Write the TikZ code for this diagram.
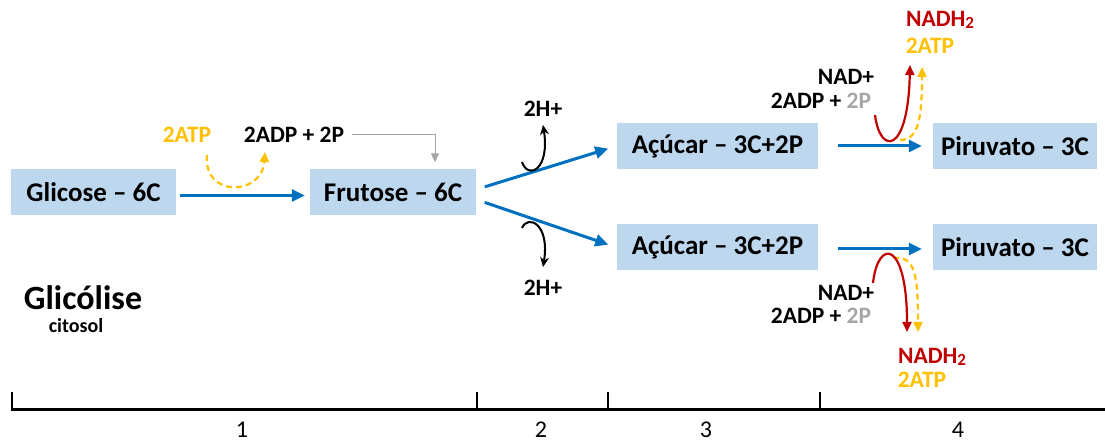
\documentclass[tikz,border=0pt]{standalone}
\usepackage{fontspec}
\setmainfont{Carlito}
\usetikzlibrary{arrows.meta}
\definecolor{boxblue}{HTML}{BDD7EE}
\definecolor{flowblue}{HTML}{0070C0}
\definecolor{atpyellow}{HTML}{FFC000}
\definecolor{nadred}{HTML}{C00000}
\definecolor{pgray}{HTML}{A6A6A6}
\newcommand{\subtwo}{\raisebox{-1.5pt}{\fontsize{17}{17}\selectfont 2}}
\tikzstyle{molbox}=[fill=boxblue,inner sep=0pt,minimum height=46pt,
                    font=\fontsize{27}{32}\selectfont\bfseries]
\tikzstyle{lbl}=[inner sep=0pt,font=\fontsize{23.5}{28}\selectfont\bfseries]
\tikzstyle{stage}=[inner sep=0pt,font=\fontsize{24}{26}\selectfont]
\tikzstyle{flow}=[flowblue,line width=3pt,
                  -{Triangle[length=13pt,width=12pt]}]
\tikzstyle{atpflow}=[atpyellow,line width=2.2pt,dash pattern=on 6pt off 4pt,
                     -{Triangle[length=10pt,width=9pt]}]
\tikzstyle{nadflow}=[nadred,line width=2.2pt,
                     -{Triangle[length=10pt,width=9pt]}]
\tikzstyle{hflow}=[black,line width=2pt,
                   -{Stealth[length=10pt,width=9pt]}]

\begin{document}
\begin{tikzpicture}[x=1pt,y=-1pt]
    \useasboundingbox (0,0) rectangle (1105,443);
    % molecules
    \node (glic) at (93.5,192.5) [molbox,minimum width=165pt]{Glicose -- 6C};
    \node (frut) at (393,192.5) [molbox,minimum width=166pt]{Frutose -- 6C};
    \node (acA) at (717.5,146) [molbox,minimum width=201pt]{Açúcar -- 3C+2P};
    \node (acB) at (717.5,247.5) [molbox,minimum width=201pt]{Açúcar -- 3C+2P};
    \node (pirA) at (1015,146) [molbox,minimum width=164pt]{Piruvato -- 3C};
    \node (pirB) at (1015,247.5) [molbox,minimum width=164pt]{Piruvato -- 3C};
    \draw[flow,shorten <=4pt,shorten >=5pt]
        ([yshift=-3pt]glic.east) -- ([yshift=-3pt]frut.west);
    \draw[flow,shorten <=9pt,shorten >=9pt] ([yshift=3pt]frut.east) -- (acA.west);
    \draw[flow,shorten <=9pt,shorten >=9pt] ([yshift=-7pt]frut.east) -- (acB.west);
    \draw[flow,shorten <=20pt,shorten >=11pt] (acA) -- (pirA);
    \draw[flow,shorten <=20pt,shorten >=11pt]
        ([yshift=-1.5pt]acB.east) -- ([yshift=-1.5pt]pirB.west);
    % step 1
    \node (atp1) at (187,135) [lbl,atpyellow]{2ATP};
    \node (adp1) at (294,135) [lbl]{2ADP + 2P};
    \coordinate (atp1in) at (207,155);
    \coordinate (atp1out) at (265,152);
    \draw[atpflow] (atp1in) .. controls (203,198) and (262,196) .. (atp1out);
    \draw[pgray,line width=1pt,-{Triangle[length=9pt,width=8pt]}]
        ([xshift=8pt]adp1.east) -| ([xshift=42pt,yshift=7pt]frut.north);
    % step 2
    \node (hA) at (543,109) [lbl]{2H+};
    \node (hB) at (543,288) [lbl]{2H+};
    \coordinate (hAin) at (522,162);
    \coordinate (hBin) at (522,228);
    \draw[hflow] (hAin) .. controls (528,180) and (550,170) .. ([yshift=-8pt]hA.south);
    \draw[hflow] (hBin) .. controls (528,214) and (550,224) .. ([yshift=13pt]hB.north);
    % step 3, upper branch
    \node (nadA) at (846,77) [lbl]{NAD+};
    \node (adpA) at (821,101) [lbl]{2ADP + \textcolor{pgray}{2P}};
    \node (nadhA) at (940,20) [lbl,nadred]{NADH\subtwo};
    \node (atpA) at (930,46) [lbl,atpyellow]{2ATP};
    \coordinate (redAin) at (875,115);
    \coordinate (redAout) at (910,65);
    \coordinate (ylwAin) at (900,140);
    \coordinate (ylwAout) at (922,67);
    \draw[atpflow] (ylwAin) .. controls (918,140) and (922,120) .. (ylwAout);
    \draw[nadflow] (redAin) .. controls (880,155) and (908,155) .. (redAout);
    % step 3, lower branch
    \node (nadB) at (846,293) [lbl]{NAD+};
    \node (adpB) at (821,316) [lbl]{2ADP + \textcolor{pgray}{2P}};
    \node (nadhB) at (932,357) [lbl,nadred]{NADH\subtwo};
    \node (atpB) at (922,380) [lbl,atpyellow]{2ATP};
    \coordinate (redBin) at (873,283);
    \coordinate (redBout) at (907,332);
    \coordinate (ylwBin) at (893,258);
    \coordinate (ylwBout) at (918,332);
    \draw[atpflow] (ylwBin) .. controls (915,255) and (918,275) .. (ylwBout);
    \draw[nadflow] (redBin) .. controls (878,238) and (907,240) .. (redBout);
    % title
    \node (title) at (83,298) [inner sep=0pt,font=\fontsize{34}{40}\selectfont\bfseries]{Glicólise};
    \node (place) at (76,326) [inner sep=0pt,font=\fontsize{20}{24}\selectfont\bfseries]{citosol};
    % time line
    \coordinate (ax0) at (12,409);
    \coordinate (ax1) at (477,409);
    \coordinate (ax2) at (608,409);
    \coordinate (ax3) at (820,409);
    \coordinate (axend) at (1105,409);
    \draw[line width=2pt] (ax0) -- ++(0,-17);
    \draw[line width=2pt] (ax1) -- ++(0,-17);
    \draw[line width=2pt] (ax2) -- ++(0,-17);
    \draw[line width=2pt] (ax3) -- ++(0,-17);
    \draw[line width=3pt] ([xshift=-1pt]ax0) -- (axend);
    \node (n1) at (242,430) [stage]{1};
    \node (n2) at (541,430) [stage]{2};
    \node (n3) at (706,430) [stage]{3};
    \node (n4) at (958,430) [stage]{4};
\end{tikzpicture}
\end{document}
